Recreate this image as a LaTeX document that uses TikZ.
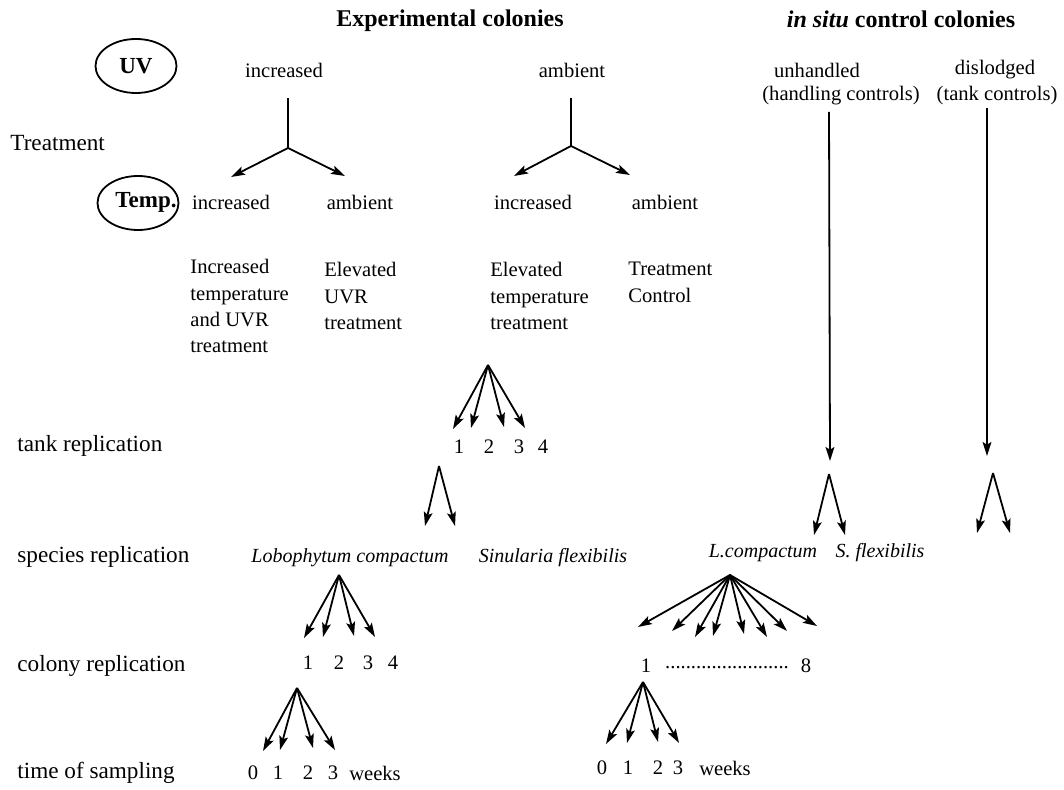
\documentclass[tikz,border=0pt]{standalone}
\usepackage{fontspec}
\setmainfont{Liberation Serif}
\usetikzlibrary{arrows.meta, positioning, shapes.geometric}

\begin{document}
\begin{tikzpicture}[
        x=0.5pt, y=-0.5pt,
        txt/.style={font=\fontsize{10.3}{13.2}\selectfont, inner sep=0pt},
        head/.style={font=\fontsize{12}{14}\selectfont\bfseries, inner sep=0pt},
        spc/.style={font=\fontsize{10}{12}\selectfont\itshape, inner sep=0pt},
        desc/.style={txt, align=left, anchor=north west},
        lbl/.style={font=\fontsize{11.6}{14}\selectfont, inner sep=0pt, anchor=west},
        oval/.style={ellipse, draw, line width=0.9pt, minimum width=40.5pt, minimum height=27pt, inner sep=0pt},
        stem/.style={line width=0.9pt},
        arr/.style={-{Stealth[length=7pt, width=4.4pt, inset=1.4pt]}, line width=0.9pt}
    ]
    \useasboundingbox (0,0) rectangle (1064,790);

    \node[head] (exp)    at (450,21) {Experimental colonies};
    \node[head] (insitu) at (901,19) {\textit{in situ} control colonies};

    \node[oval, font=\fontsize{11.5}{13}\selectfont\bfseries] (uv) at (136,66) {UV};
    \node[oval] (temp) at (138,203) {};
    \node[txt, font=\fontsize{11.5}{13}\selectfont\bfseries] (templ) at (146,202) {Temp.};

    \node[lbl] (treat) at (10,143)  {Treatment};
    \node[lbl] (tankr) at (17,446)  {tank replication};
    \node[lbl] (specr) at (17,557)  {species replication};
    \node[lbl] (colr)  at (17,666)  {colony replication};
    \node[lbl] (timer) at (17,773)  {time of sampling};

    \node[txt] (uvinc) at (284,70) {increased};
    \node[txt] (uvamb) at (572,70) {ambient};
    \node[txt] (unh)   at (817,70) {unhandled};
    \node[txt] (unhc)  at (841,96) {(handling controls)};
    \node[txt] (dis)   at (995,70) {dislodged};
    \node[txt] (disc)  at (997,96) {(tank controls)};

    \node[txt] (tinc1) at (231,202) {increased};
    \node[txt] (tamb1) at (360,202) {ambient};
    \node[txt] (tinc2) at (533,202) {increased};
    \node[txt] (tamb2) at (665,202) {ambient};

    \node[desc] (d1) at (190,259) {Increased\\temperature\\and UVR\\treatment};
    \node[desc] (d2) at (324,262) {Elevated\\UVR\\treatment};
    \node[desc] (d3) at (490,262) {Elevated\\temperature\\treatment};
    \node[desc] (d4) at (628,262) {Treatment\\Control};

    \coordinate (b1top) at (288,98);
    \coordinate (b1)    at (288,148);
    \coordinate (b1l)   at (231,177);
    \coordinate (b1r)   at (345,176);
    \coordinate (b2top) at (571,98);
    \coordinate (b2)    at (571,146);
    \coordinate (b2l)   at (514,176);
    \coordinate (b2r)   at (630,175);
    \draw[stem] (b1top) -- (b1);
    \draw[arr] (b1) -- (b1l);
    \draw[arr] (b1) -- (b1r);
    \draw[stem] (b2top) -- (b2);
    \draw[arr] (b2) -- (b2l);
    \draw[arr] (b2) -- (b2r);

    \coordinate (unhtop) at (829,112);
    \coordinate (unhtip) at (830,461);
    \coordinate (distop) at (987,108);
    \coordinate (distip) at (987,456);
    \draw[arr] (unhtop) -- (unhtip);
    \draw[arr] (distop) -- (distip);

    \coordinate (tank) at (488,365);
    \foreach \n/\x/\y in {1/453/429, 2/471/428, 3/504/427, 4/525/428} {
        \coordinate (tank\n) at (\x,\y);
        \draw[arr] (tank) -- (tank\n);
    }
    \foreach \n/\x in {1/459, 2/489, 3/519, 4/543}
        \node[txt] (tn\n) at (\x,447) {\n};

    \coordinate (spec) at (439,466);
    \coordinate (spec1) at (425,526);
    \coordinate (spec2) at (455,526);
    \draw[arr] (spec) -- (spec1);
    \draw[arr] (spec) -- (spec2);

    \coordinate (unhs) at (829,474);
    \coordinate (unhs1) at (814,535);
    \coordinate (unhs2) at (845,535);
    \draw[arr] (unhs) -- (unhs1);
    \draw[arr] (unhs) -- (unhs2);

    \coordinate (diss) at (993,473);
    \coordinate (diss1) at (977,533);
    \coordinate (diss2) at (1010,533);
    \draw[arr] (diss) -- (diss1);
    \draw[arr] (diss) -- (diss2);

    \node[spc] (lobo) at (350,558) {Lobophytum compactum};
    \node[spc] (sinu) at (553,558) {Sinularia flexibilis};
    \node[spc] (lcom) at (763,553) {L.compactum};
    \node[spc] (sfle) at (880,553) {S. flexibilis};

    \coordinate (col) at (339,575);
    \foreach \n/\x/\y in {1/304/638, 2/323/637, 3/354/636, 4/375/637} {
        \coordinate (col\n) at (\x,\y);
        \draw[arr] (col) -- (col\n);
    }
    \foreach \n/\x in {1/308, 2/339, 3/368, 4/393}
        \node[txt] (cn\n) at (\x,663) {\n};

    \coordinate (lc) at (730,575);
    \foreach \n/\x/\y in {1/638/627, 2/672/631, 3/695/637, 4/713/636, 5/744/634, 6/767/637, 7/787/631, 8/817/626} {
        \coordinate (lc\n) at (\x,\y);
        \draw[arr] (lc) -- (lc\n);
    }
    \node[txt] (lcn1) at (646,666) {1};
    \node[txt] (lcdots) at (727,668) {........................};
    \node[txt] (lcn8) at (806,666) {8};

    \coordinate (wk) at (297,688);
    \foreach \n/\x/\y in {1/263/751, 2/280/750, 3/313/748, 4/335/750} {
        \coordinate (wk\n) at (\x,\y);
        \draw[arr] (wk) -- (wk\n);
    }
    \foreach \n/\x in {0/253, 1/278, 2/308, 3/333}
        \node[txt] (wa\n) at (\x,773) {\n};
    \node[txt] (wka) at (375,773) {weeks};

    \coordinate (wl) at (643,682);
    \foreach \n/\x/\y in {1/606/744, 2/627/743, 3/658/742, 4/679/743} {
        \coordinate (wl\n) at (\x,\y);
        \draw[arr] (wl) -- (wl\n);
    }
    \foreach \n/\x in {0/602, 1/628, 2/658, 3/678}
        \node[txt] (wb\n) at (\x,768) {\n};
    \node[txt] (wkb) at (725,768) {weeks};

\end{tikzpicture}
\end{document}
